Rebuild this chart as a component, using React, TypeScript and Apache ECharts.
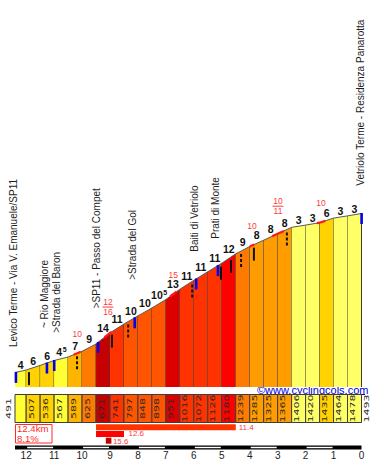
import React, { useEffect, useRef } from "react";
import * as echarts from "echarts";

// ---------------- data ----------------
const KM = [12.4, 12, 11.5, 11, 10.5, 10, 9.5, 9, 8.5, 8, 7.5, 7, 6.5, 6, 5.5, 5, 4.5, 4, 3.5, 3, 2.5, 2, 1.5, 1, 0.5, 0];
const ALT = [491, 507, 536, 567, 589, 625, 671, 741, 797, 848, 898, 951, 1016, 1072, 1126, 1180, 1239, 1285, 1325, 1365, 1406, 1420, 1435, 1464, 1478, 1493];
const GRAD = [4, 6, 6, 4.5, 7, 9, 14, 11, 10, 10, 10.5, 13, 11, 11, 11, 12, 9, 8, 8, 8, 3, 3, 6, 3, 3];

const PLACE_NAMES = [
  "Levico Terme - Via V. Emanuele/SP11",
  "~ Rio Maggiore",
  ">Strada del Baron",
  ">SP11 - Passo del Compet",
  ">Strada del Gol",
  "Baiti di Vetriolo",
  "Prati di Monte",
  "Vetriolo Terme - Residenza Panarotta",
];
const PLACE_KM = [12.45, 11.36, 10.9, 9.47, 8.18, 5.96, 5.21, 0.04];

const STEEP_FROM = [10.3, 9.2, 6.85, 4.0, 3.2, 1.6];
const STEEP_TO = [10.05, 8.95, 6.62, 3.84, 2.78, 1.3];
const STEEP_LABELS = [["10"], ["12", "16"], ["15"], ["10"], ["10", "11"], ["10"]];

const SIGN_KM = [12.37, 11.26, 11.0, 9.43, 8.12, 5.92, 5.14, 0.0, 11.9, 8.93, 5.03, 4.67, 3.85, 10.18, 8.35, 6.06, 4.31, 2.67];
const SIGN_KIND = ["b", "b", "b", "b", "b", "b", "b", "b", "s", "s", "s", "s", "s", "d", "d", "d", "d", "d"];

const MAX_FROM = [9.5, 9.5, 9.15];
const MAX_TO = [4.5, 8.5, 8.95];
const MAX_GRAD = [11.4, 12.6, 15.6];

const TOTAL_KM = 12.4;
const AVG_GRAD = 8.1;
const SITE = "www.cyclingcols.com";

// ---------------- layout / style ----------------
const FONT = "'Liberation Sans', Arial, sans-serif";
const Y_MIN = 400;
const Y_MAX = 2712;
const BOX_TOP = 394.5;
const BOX_H = 28;
const PLACE_LIFT = [25.5, 36, 27, 35, 39, 28, 28, 28];
const MAX_ROW_Y = [424.3, 431, 437.7];
const MAX_LABEL_DY = [3.2, 2.4, 3.9];
const MAX_LABEL_GAP = [3, 4.5, 1.5];
const RED = "#ff2a2a";

function gradColor(g: number): string {
  const f = Math.floor(g);
  if (f <= 3) return "#ffff66";
  if (f <= 5) return "#ffff33";
  if (f === 6) return "#ffd200";
  if (f === 7) return "#ffb400";
  if (f === 8) return "#ff9c00";
  if (f === 9) return "#ff7a00";
  if (f === 10) return "#ff5500";
  if (f === 11) return "#ff3300";
  if (f === 12) return "#ff0000";
  if (f === 13) return "#dd0000";
  return "#c40000";
}

function altAt(km: number): number {
  if (km >= KM[0]) return ALT[0];
  if (km <= KM[KM.length - 1]) return ALT[ALT.length - 1];
  for (let i = 0; i < KM.length - 1; i++) {
    if (km <= KM[i] && km >= KM[i + 1]) {
      const t = (KM[i] - km) / (KM[i] - KM[i + 1]);
      return ALT[i] + t * (ALT[i + 1] - ALT[i]);
    }
  }
  return ALT[0];
}

function vText(text: string, x: number, y: number, extra: any = {}, style: any = {}) {
  return {
    type: "text",
    x,
    y,
    rotation: Math.PI / 2,
    ...extra,
    style: {
      text,
      fontFamily: FONT,
      fontSize: 10,
      fill: "#222",
      align: "center",
      verticalAlign: "middle",
      ...style,
    },
  };
}

function boxLabel(text: string, x: number) {
  return vText(text, x, BOX_TOP + BOX_H / 2, { scaleY: 0.7 }, {
    fontFamily: "'DejaVu Sans', sans-serif",
    fontSize: 11,
    fill: "#2a2a2a",
  });
}

function renderSegment(params: any, api: any) {
  const i = params.dataIndex;
  const k0 = api.value(0), k1 = api.value(1), a0 = api.value(2), a1 = api.value(3), g = api.value(4);
  const p0 = api.coord([k0, a0]);
  const p1 = api.coord([k1, a1]);
  const base = api.coord([k0, Y_MIN])[1];
  const col = gradColor(g);
  const children: any[] = [
    { type: "polygon", shape: { points: [[p0[0], base], p0, p1, [p1[0], base]] }, style: { fill: col } },
    { type: "line", shape: { x1: p1[0], y1: p1[1], x2: p1[0], y2: base }, style: { stroke: "#3c3c3c", lineWidth: 1 } },
    { type: "rect", shape: { x: p0[0], y: BOX_TOP, width: p1[0] - p0[0], height: BOX_H }, style: { fill: col, stroke: "#3c3c3c", lineWidth: 1 } },
  ];
  if (i === 0) {
    children.push(boxLabel(String(a0), p0[0] - 7));
  } else {
    children.push(boxLabel(String(a0), p0[0] + 4.7));
  }
  if (i === GRAD.length - 1) children.push(boxLabel(String(a1), p1[0] + 4.5));

  const whole = Math.floor(g);
  const frac = Math.round((g - whole) * 10);
  const mid = (p0[0] + p1[0]) / 2;
  const cy = p1[1] - 1 - 3.8;
  const gStyle = { fontFamily: FONT, fontSize: 10.5, fontWeight: "bold", fill: "#111", verticalAlign: "middle" };
  if (!frac) {
    children.push({ type: "text", x: mid, y: cy, style: { ...gStyle, text: String(whole), align: "center" } });
  } else {
    const w = String(whole).length * 5.84;
    children.push({ type: "text", x: mid - 2, y: cy, style: { ...gStyle, text: String(whole), align: "center" } });
    children.push({ type: "text", x: mid - 2 + w / 2 + 0.6, y: cy - 2.5, style: { ...gStyle, fontSize: 7, text: String(frac), align: "left" } });
  }
  return { type: "group", children };
}

function renderSteep(params: any, api: any) {
  const idx = params.dataIndex;
  const from = STEEP_FROM[idx], to = STEEP_TO[idx];
  const kms = [from, ...KM.filter((k) => k < from && k > to), to];
  const pts = kms.map((k) => api.coord([k, altAt(k)]));
  const midK = (from + to) / 2;
  const mp = api.coord([midK, altAt(midK)]);
  const labels = STEEP_LABELS[idx];
  const ls = { fontFamily: FONT, fontSize: 8.5, fill: "#ff3b3b", align: "center", verticalAlign: "middle" };
  const children: any[] = [
    { type: "polyline", shape: { points: pts }, style: { stroke: "#ff1a1a", lineWidth: 2.2, fill: null } },
  ];
  if (labels.length === 1) {
    children.push({ type: "text", x: mp[0], y: mp[1] - 19.5, style: { ...ls, text: labels[0] } });
  } else {
    children.push({ type: "text", x: mp[0], y: mp[1] - 33, style: { ...ls, text: labels[0] } });
    children.push({ type: "line", shape: { x1: mp[0] - 5.5, y1: mp[1] - 27.5, x2: mp[0] + 5.5, y2: mp[1] - 27.5 }, style: { stroke: "#ff3b3b", lineWidth: 1 } });
    children.push({ type: "text", x: mp[0], y: mp[1] - 22.5, style: { ...ls, text: labels[1] } });
  }
  return { type: "group", children };
}

function renderSign(params: any, api: any) {
  const idx = params.dataIndex;
  const km = SIGN_KM[idx];
  const kind = SIGN_KIND[idx];
  const p = api.coord([km, altAt(km)]);
  if (kind === "b") {
    return { type: "rect", shape: { x: p[0] - 1.2, y: p[1] - 0.5, width: 2.6, height: 11 }, style: { fill: "#0000ee" } };
  }
  return {
    type: "line",
    shape: { x1: p[0], y1: p[1] + 3, x2: p[0], y2: p[1] + 16 },
    style: { stroke: "#111", lineWidth: 2, lineDash: kind === "d" ? [3, 2] : null },
  };
}

function renderPlace(params: any, api: any) {
  const idx = params.dataIndex;
  const km = PLACE_KM[idx];
  const p = api.coord([km, altAt(km)]);
  return vText(PLACE_NAMES[idx], p[0], p[1] - PLACE_LIFT[idx], {}, { align: "left", fill: "#1e1e1e" });
}

function renderKmBar(params: any, api: any) {
  const hi = api.value(0), lo = api.value(1), kind = api.value(2);
  const x0 = api.coord([hi, Y_MIN])[0];
  const x1 = api.coord([lo, Y_MIN])[0];
  if (kind === 0) {
    return { type: "rect", shape: { x: x0, y: 445.5, width: x1 - x0, height: 4 }, style: { fill: "#000" } };
  }
  if (Math.round(hi) % 2 !== 0) return null;
  return { type: "rect", shape: { x: x0 + 1, y: 446.8, width: x1 - x0 - 2, height: 1.4 }, style: { fill: "#fff" } };
}

function renderMaxBar(params: any, api: any) {
  const idx = params.dataIndex;
  const x0 = api.coord([api.value(0), Y_MIN])[0];
  const x1 = api.coord([api.value(1), Y_MIN])[0];
  const v = api.value(2);
  const y = MAX_ROW_Y[idx];
  return {
    type: "group",
    children: [
      { type: "rect", shape: { x: x0, y, width: x1 - x0, height: 6 }, style: { fill: gradColor(v) } },
      {
        type: "text",
        x: x1 + MAX_LABEL_GAP[idx],
        y: y + MAX_LABEL_DY[idx],
        style: { text: v.toFixed(1), fontFamily: FONT, fontSize: 8, fill: "#ff3b3b", align: "left", verticalAlign: "middle" },
      },
    ],
  };
}

function buildOption(): any {
  const segData = GRAD.map((g, i) => [KM[i], KM[i + 1], ALT[i], ALT[i + 1], g]);
  const kmBarData: number[][] = [[KM[0], KM[KM.length - 1], 0]];
  for (let k = Math.floor(KM[0]); k >= 1; k--) kmBarData.push([k, k - 1, 1]);

  return {
    animation: false,
    backgroundColor: "#fff",
    textStyle: { fontFamily: FONT },
    grid: { left: 15, right: 15.5, top: 20, bottom: 75 },
    xAxis: {
      type: "value",
      min: 0,
      max: TOTAL_KM,
      interval: 1,
      inverse: true,
      axisLine: { show: false },
      axisTick: { show: false },
      splitLine: { show: false },
      axisLabel: {
        margin: 63,
        fontSize: 10,
        color: "#222",
        fontFamily: FONT,
        showMaxLabel: false,
        formatter: (v: number) => (Math.abs(v - Math.round(v)) < 1e-6 ? String(Math.round(v)) : ""),
      },
    },
    yAxis: { type: "value", min: Y_MIN, max: Y_MAX, show: false, splitLine: { show: false } },
    series: [
      { type: "custom", renderItem: renderSegment, data: segData, encode: { x: [0, 1], y: [2, 3] }, z: 1, silent: true },
      { type: "custom", renderItem: renderKmBar, data: kmBarData, encode: { x: [0, 1] }, z: 1, silent: true },
      {
        type: "line",
        data: KM.map((k, i) => [k, ALT[i]]),
        symbol: "none",
        lineStyle: { color: "#5a5a5a", width: 1 },
        z: 3,
        silent: true,
      },
      { type: "custom", renderItem: renderSteep, data: STEEP_FROM.map((f, i) => [f, STEEP_TO[i]]), encode: { x: [0, 1] }, z: 4, silent: true },
      { type: "custom", renderItem: renderSign, data: SIGN_KM.map((k) => [k]), encode: { x: 0 }, z: 5, silent: true },
      { type: "custom", renderItem: renderPlace, data: PLACE_KM.map((k) => [k]), encode: { x: 0 }, z: 6, silent: true },
      { type: "custom", renderItem: renderMaxBar, data: MAX_FROM.map((f, i) => [f, MAX_TO[i], MAX_GRAD[i]]), encode: { x: [0, 1] }, z: 6, silent: true },
    ],
    graphic: {
      elements: [
        { type: "rect", shape: { x: 15.5, y: 424.5, width: 36.5, height: 18.5 }, style: { fill: "#fff", stroke: RED, lineWidth: 1 } },
        { type: "text", x: 17, y: 428.8, style: { text: `${TOTAL_KM}km`, fontFamily: FONT, fontSize: 9.6, fill: RED, align: "left", verticalAlign: "middle" } },
        { type: "text", x: 17, y: 438.6, style: { text: `${AVG_GRAD}%`, fontFamily: FONT, fontSize: 9.6, fill: RED, align: "left", verticalAlign: "middle" } },
        { type: "text", x: 257, y: 389.5, style: { text: `©${SITE}`, fontFamily: FONT, fontSize: 11, fill: "#0000dd", align: "left", verticalAlign: "middle" } },
        { type: "line", shape: { x1: 265.5, y1: 394.5, x2: 365, y2: 394.5 }, style: { stroke: "#0000dd", lineWidth: 1 } },
      ],
    },
  };
}

export default function App() {
  const ref = useRef<HTMLDivElement>(null);
  useEffect(() => {
    if (!ref.current) return;
    const chart = echarts.init(ref.current, undefined, { renderer: "svg" });
    chart.setOption(buildOption());
    return () => chart.dispose();
  }, []);
  return (
    <div
      ref={ref}
      style={{ position: "fixed", left: 0, top: 0, width: 377, height: 462, background: "#fff" }}
    />
  );
}
